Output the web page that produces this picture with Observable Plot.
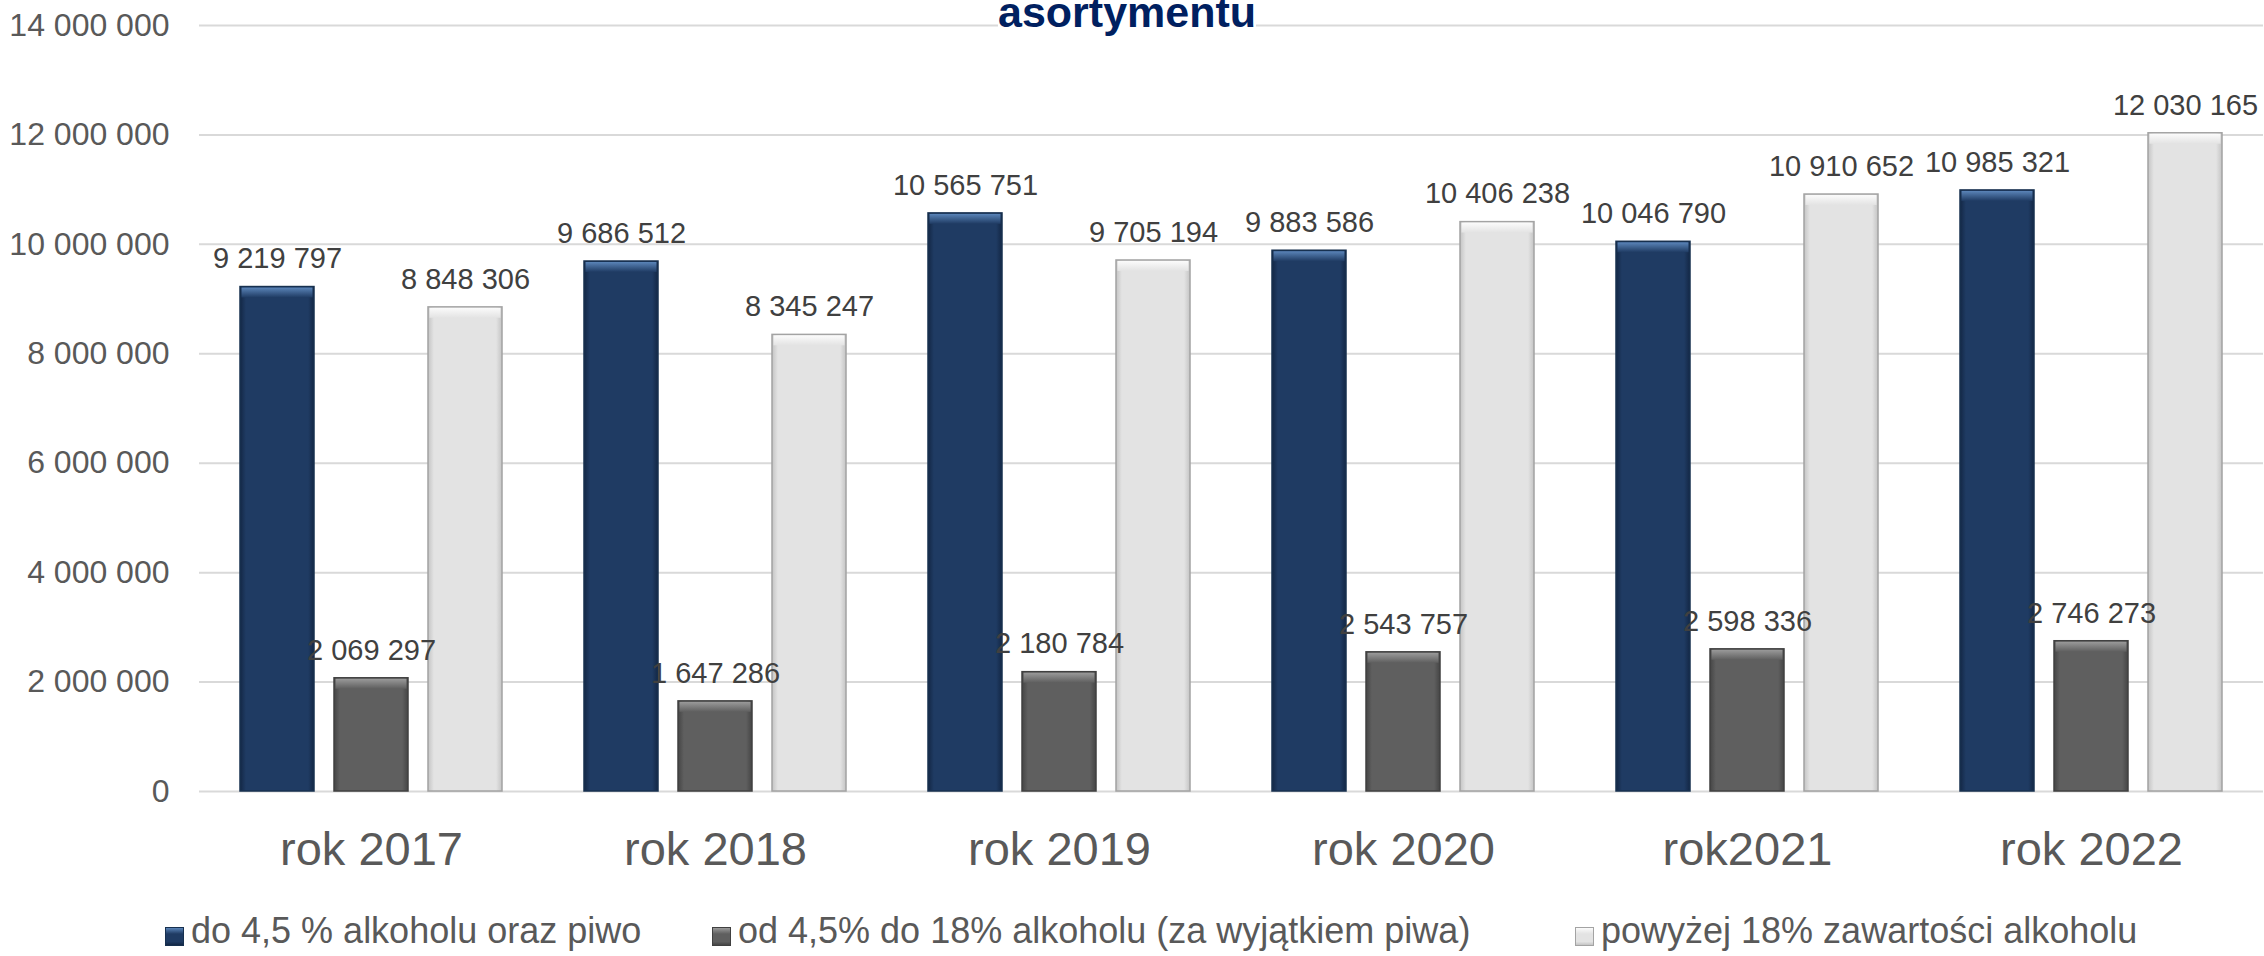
<!DOCTYPE html>
<html>
<head>
<meta charset="utf-8">
<script src="https://cdn.jsdelivr.net/npm/d3@7"></script>
<script src="https://cdn.jsdelivr.net/npm/@observablehq/plot@0.6"></script>
<style>
  html, body { margin: 0; padding: 0; background: #fff; }
  #wrap { position: relative; width: 2264px; height: 956px; overflow: hidden; font-family: "Liberation Sans", Arial, sans-serif; }
  #title { position: absolute; left: 998px; top: -9.5px; font-size: 43px; line-height: 43px; font-weight: bold; color: #002060; background: #fff; white-space: nowrap; }
  .leg { position: absolute; top: 913px; font-size: 36px; line-height: 36px; color: #595959; white-space: nowrap; }
  .leg .sw { position: absolute; top: 14px; width: 19px; height: 19px; box-sizing: border-box; }
  .leg .tx { position: absolute; left: 26px; top: 0; }
</style>
</head>
<body>
<div id="wrap">
  <div id="chart"></div>
  <div id="title">asortymentu</div>
</div>
<script>
// ---- data ----
const categories = ["rok 2017", "rok 2018", "rok 2019", "rok 2020", "rok2021", "rok 2022"];
const seriesNames = [
  "do 4,5 % alkoholu oraz piwo",
  "od 4,5% do 18% alkoholu (za wyjątkiem piwa)",
  "powyżej 18% zawartości alkoholu"
];
const valuesDo45 = [9219797, 9686512, 10565751, 9883586, 10046790, 10985321];
const valuesOd45 = [2069297, 1647286, 2180784, 2543757, 2598336, 2746273];
const valuesPow18 = [8848306, 8345247, 9705194, 10406238, 10910652, 12030165];
const yTicks = [0, 2000000, 4000000, 6000000, 8000000, 10000000, 12000000, 14000000];

// ---- styles ----
const seriesStyle = [
  {id: "g0", base: "#1f3b63", edge: "#132745", top: "#5a84b8", stroke: "#17304f"},
  {id: "g1", base: "#5f5f5f", edge: "#454545", top: "#9a9a9a", stroke: "#404040"},
  {id: "g2", base: "#e3e3e3", edge: "#c4c4c4", top: "#fbfbfb", stroke: "#a3a3a3"}
];
const legendLeft = [165, 712, 1575];

const allValues = [valuesDo45, valuesOd45, valuesPow18];
const data = [];
categories.forEach((c, i) => {
  seriesNames.forEach((s, j) => {
    data.push({cat: c, series: s, si: j, value: allValues[j][i]});
  });
});

const fmt = v => d3.format(",")(v).replace(/,/g, " ");
const bevel = 200000;

const W = 2264, H = 880;
const chart = Plot.plot({
  width: W,
  height: H,
  marginTop: 25,
  marginBottom: 89,
  marginLeft: 198,
  marginRight: 0,
  style: {fontFamily: '"Liberation Sans", Arial, sans-serif', background: "transparent", color: "#595959"},
  fx: {domain: categories, padding: 0, label: null},
  x: {domain: seriesNames, paddingInner: 0.21, paddingOuter: 0.418, axis: null},
  y: {domain: [0, 14000000], label: null},
  marks: [
    Plot.gridY(yTicks, {stroke: "#d9d9d9", strokeOpacity: 1, strokeWidth: 2}),
    Plot.axisY(yTicks, {tickSize: 0, tickPadding: 30, fontSize: 32, tickFormat: fmt, fill: "#595959", label: null}),
    Plot.axisFx({anchor: "bottom", tickSize: 0, tickPadding: 40, fontSize: 47, fill: "#595959", label: null}),
    Plot.barY(data, {
      fx: "cat", x: "series", y: "value",
      fill: d => `url(#${seriesStyle[d.si].id})`,
      stroke: d => seriesStyle[d.si].stroke,
      strokeWidth: 1.5
    }),
    Plot.barY(data, {
      fx: "cat", x: "series",
      y1: d => d.value - bevel, y2: "value",
      fill: d => `url(#${seriesStyle[d.si].id}t)`,
      insetLeft: 1.5, insetRight: 1.5, insetTop: 1
    }),
    Plot.text(data, {
      fx: "cat", x: "series", y: "value",
      text: d => fmt(d.value),
      dy: -28, fontSize: 29, fill: "#404040"
    })
  ]
});

// gradient definitions for bevelled bars
const ns = "http://www.w3.org/2000/svg";
const defs = document.createElementNS(ns, "defs");
seriesStyle.forEach(s => {
  const g = document.createElementNS(ns, "linearGradient");
  g.setAttribute("id", s.id);
  g.setAttribute("x1", "0"); g.setAttribute("x2", "1"); g.setAttribute("y1", "0"); g.setAttribute("y2", "0");
  [[0, s.edge], [0.08, s.base], [0.92, s.base], [1, s.edge]].forEach(([o, c]) => {
    const st = document.createElementNS(ns, "stop");
    st.setAttribute("offset", o); st.setAttribute("stop-color", c);
    g.appendChild(st);
  });
  defs.appendChild(g);
  const t = document.createElementNS(ns, "linearGradient");
  t.setAttribute("id", s.id + "t");
  t.setAttribute("x1", "0"); t.setAttribute("x2", "0"); t.setAttribute("y1", "0"); t.setAttribute("y2", "1");
  [[0, s.top], [1, s.base]].forEach(([o, c]) => {
    const st = document.createElementNS(ns, "stop");
    st.setAttribute("offset", o); st.setAttribute("stop-color", c);
    t.appendChild(st);
  });
  defs.appendChild(t);
});
chart.insertBefore(defs, chart.firstChild);
document.getElementById("chart").appendChild(chart);

// legend
const wrap = document.getElementById("wrap");
seriesNames.forEach((s, j) => {
  const st = seriesStyle[j];
  const item = document.createElement("div");
  item.className = "leg";
  item.style.left = legendLeft[j] + "px";
  const sw = document.createElement("div");
  sw.className = "sw";
  sw.style.background = `linear-gradient(180deg, ${st.top} 0%, ${st.base} 35%, ${st.base} 80%, ${st.edge} 100%)`;
  sw.style.border = `1px solid ${st.stroke}`;
  const tx = document.createElement("div");
  tx.className = "tx";
  tx.textContent = s;
  item.appendChild(sw);
  item.appendChild(tx);
  wrap.appendChild(item);
});
</script>
</body>
</html>
